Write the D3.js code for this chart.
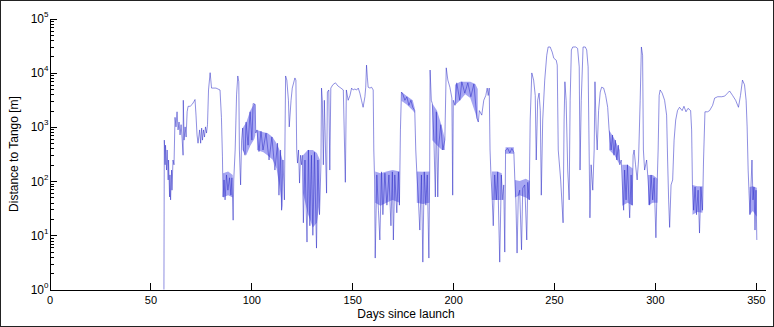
<!DOCTYPE html>
<html>
<head>
	<meta charset="utf-8">
	<title>Distance to Tango</title>
	<style type="text/css">
		body {
			margin: 0;
			background-color: #fff;
		}

		svg {
			display: block;
			font-family: 'Liberation Sans', Arial, sans-serif;
		}

		.axis path, .axis line {
			stroke: #000;
			stroke-width: 1px;
			shape-rendering: crispEdges;
		}

		.axis text {
			font-size: 11px;
			fill: #000;
		}

		.label {
			font-size: 12px;
			fill: #000;
		}
	</style>
	<script type="text/javascript" src="https://cdn.jsdelivr.net/npm/d3@7"></script>
</head>

<body>
	<div id='chart'></div>
	<script type="text/javascript">
		var width = 774, height = 327;

		// tick values
		var xTicks = [0, 50, 100, 150, 200, 250, 300, 350];
		var yDecades = [0, 1, 2, 3, 4, 5];

		// distance track: [day, metres]
		var track = [
			[56.7,1],[56.9,570],[57.3,200],[57.5,460],[58.0,160],[58.3,375],[58.8,105],[59.0,245],[59.5,51],[59.7,130],
			[60.0,45],[60.5,160],[60.7,68],[61.2,245],[61.7,200],[62.2,1500],[62.7,1000],[63.2,1900],[63.7,880],[64.2,1230],
			[64.7,710],[65.2,1100],[65.7,620],[66.2,300],[66.3,3100],[66.7,570],[67.2,1000],[67.7,650],[68.2,1900],[68.7,2400],
			[69.7,2400],[70.7,2600],[71.6,2950],[72.1,3200],[72.6,1650],[73.1,710],[73.6,500],[74.4,880],[74.9,500],[75.4,950],
			[75.8,570],[76.3,880],[76.8,650],[77.3,1000],[77.8,770],[78.3,1100],[78.8,4800],[79.6,10000],[80.3,5200],[82.5,5200],
			[84.5,4800],[85.2,1500],[85.7,280],[86.0,51],[86.5,105],[87.0,45],[87.7,130],[88.4,68],[89.2,115],[89.9,55],
			[90.4,115],[91.0,19],[91.3,105],[92.0,375],[92.7,3900],[93.3,8700],[93.8,6800],[94.1,375],[94.7,85],[95.2,570],
			[95.7,950],[96.1,375],[96.9,300],[97.4,1230],[98.4,460],[99.4,1900],[100.3,570],[100.9,2700],[101.9,2600],[102.2,770],
			[102.8,880],[103.8,350],[104.8,830],[105.8,375],[107.3,770],[108.8,245],[110.2,650],[111.7,160],[113.0,500],[113.7,55],
			[114.5,375],[115.0,29],[115.7,245],[116.4,45],[117.0,8700],[117.6,7300],[118.4,3100],[118.8,1000],[119.7,3100],[120.3,5200],
			[121.6,8000],[122.1,7300],[122.5,375],[122.9,215],[123.4,375],[123.9,92],[124.4,300],[124.9,200],[125.3,300],
			[125.8,17],[126.6,245],[127.6,7.5],[128.3,375],[129.0,15],[129.8,300],[130.5,10],[131.3,340],[132.3,5.8],[133.0,245],
			[133.8,24],[134.5,200],[134.8,5200],[135.2,3100],[135.7,200],[136.2,3100],[137.0,160],[137.3,60],[137.7,4400],[138.4,4800],
			[138.9,160],[139.4,5200],[140.4,6000],[141.7,6500],[142.9,5700],[144.4,5200],[145.6,4800],[146.6,95],[147.1,4800],[148.0,3100],
			[148.9,3800],[149.7,5200],[150.5,4800],[151.3,5000],[152.2,4800],[153.0,5200],[153.8,4200],[154.6,3100],[155.4,2300],[156.3,3600],
			[156.7,5400],[157.1,13800],[157.5,8300],[157.9,5400],[158.8,5200],[159.6,5400],[160.4,4800],[160.7,375],[161.1,105],[161.4,3.8],
			[162.2,130],[163.0,29],[163.7,8.2],[164.5,148],[165.2,24],[166.2,140],[167.2,36],[168.2,130],[169.2,15],[169.9,148],
			[170.4,8.2],[171.1,130],[172.1,26],[172.9,148],[173.4,36],[173.9,880],[174.4,4400],[175.1,4000],[176.1,3100],[177.1,3600],
			[178.1,2500],[179.1,3100],[180.0,2300],[181.0,2000],[181.5,375],[182.0,148],[182.8,45],[183.5,12.5],[184.3,130],[185.0,3.2],
			[185.7,148],[186.5,36],[187.2,130],[188.0,3.8],[188.4,160],[188.6,11200],[189.2,3100],[189.7,2700],
			[190.5,570],[191.2,51],[191.7,1900],[192.4,51],[192.9,460],[193.9,1100],[194.9,375],[195.9,570],[196.6,12300],[197.4,7300],
			[198.4,5400],[199.4,3400],[199.8,55],[200.1,3100],[200.9,2500],[201.8,6500],[203.3,3100],[204.3,6800],[205.8,4200],[207.3,6500],
			[208.8,3600],[210.3,6200],[211.8,1450],[212.5,1230],[213.0,2000],[214.2,1650],[215.2,3100],[216.2,3800],[216.9,5200],[217.4,3800],
			[217.9,5200],[218.3,375],[218.7,148],
			[219.4,45],[219.9,15],[220.6,130],[221.4,45],[222.1,148],[223.1,3.2],[223.9,130],[224.6,45],[225.1,85],[225.6,4.9],
			[226.0,375],[227.1,400],[228.1,330],[229.1,400],[230.1,340],[230.6,105],[231.1,45],[231.7,4.7],[232.3,55],[233.0,68],
			[233.9,5.4],[234.5,74],[235.5,85],[236.5,8.2],[237.0,95],[237.7,45],[238.2,1340],[239.0,9900],[239.9,7300],[240.7,3800],
			[241.2,245],[241.9,3100],[242.6,4200],[243.2,2000],[243.7,55],[244.4,1340],[245.4,7300],[246.4,21000],[247.1,29800],[248.1,29800],
			[249.1,24000],[249.9,18500],[251.1,17000],[251.6,13800],[252.1,375],[253.3,105],[254.5,17],[255.0,1340],[255.4,6800],[256.0,3100],
			[256.8,160],[257.5,45],[258.0,3100],[258.6,26300],[259.3,29800],[260.8,29800],[261.7,28000],[262.5,12800],[262.9,160],[263.5,3100],
			[264.4,29800],[265.5,29800],[266.2,26300],[266.9,12800],[267.4,375],[267.8,21],[268.4,200],[269.2,68],[269.9,375],[270.3,6800],
			[270.9,880],[271.4,375],[272.1,2000],[272.9,4400],[273.6,5400],[274.6,5200],[275.6,3800],[276.6,2300],[277.3,880],
			[278.3,375],[279.0,710],[279.7,300],[280.4,570],[281.1,245],[281.9,460],[282.6,200],[283.3,245],[284.0,68],[284.5,29],
			[285.0,160],[285.7,45],[286.4,200],[287.5,21],[288.2,130],[288.7,36],[289.2,300],[289.7,375],[290.4,200],[291.2,105],
			[291.9,245],[292.7,3100],[293.3,29800],[293.9,21000],[294.3,375],[294.9,160],[295.9,245],[296.6,105],[297.4,36],[298.1,130],
			[298.9,45],[299.6,115],[300.5,9],[301.1,85],[301.6,375],[302.1,3800],[302.6,4800],[303.6,4200],[304.8,3100],[305.8,1650],
			[306.3,245],[306.8,45],[307.3,14],[308.0,85],[308.8,105],[309.5,570],[310.3,1340],[311.2,2000],[312.2,2300],[313.5,2000],
			[314.4,2400],[315.4,1900],[316.4,2200],[317.7,2000],[318.2,880],[318.6,85],
			[319.2,29],[319.9,78],[320.6,24],[321.4,68],[322.1,11],[322.8,78],[323.6,29],[324.1,245],[324.8,1900],[326.1,1900],
			[327.1,2000],[328.6,2500],[329.6,3400],[331.1,3600],[333.1,3600],[334.6,3700],[336.0,4200],[337.0,4600],[338.5,3800],[340.0,3100],
			[341.4,2300],[342.4,3800],[343.4,7300],[344.4,6000],[345.2,3100],[345.7,1000],[346.2,160],[346.6,68],[347.1,24],[347.6,78],
			[348.1,245],[348.6,45],[349.1,78],[349.6,12.5],[350.1,68],[350.5,8.2]
		];

		// stretches where the signal swings fast: low and high edge (null = gap)
		var bandDays = [86.0, 88.5, 90.8, null,
			95.7, 97.5, 99.5, 101.5, 102.0, null,
			102.8, 106, 108, 110.5, 112.5, 114, 115.5, null,
			125.6, 128, 130.5, 132.5, 134, null,
			161.4, 164, 167, 170, 173.5, null,
			174.5, 177, 180, 181, null,
			182, 185, 188.3, null,
			189.7, 192, 194.5, 195.9, null,
			200.9, 203.5, 206, 208.5, 211, 212.2, null,
			219.2, 222, 224.1, null,
			226.0, 230.1, null,
			230.6, 233, 236, 238, null,
			277.3, 280, 282.5, null,
			283.8, 286.5, 289, null,
			296.6, 299, 301.3, null,
			318.6, 321, 323.6, null,
			346.9, 348.5, 350.5];
		var bandLow = [50, 55, 50, null,
			375, 300, 450, 600, 700, null,
			375, 340, 300, 250, 170, 80, 29, null,
			60, 25, 14, 17, 45, null,
			40, 35, 40, 45, 40, null,
			3000, 2600, 2000, 1800, null,
			40, 38, 40, null,
			570, 460, 375, 375, null,
			2500, 3100, 4000, 3400, 1800, 1230, null,
			45, 45, 45, null,
			320, 320, null,
			50, 55, 50, 45, null,
			375, 300, 200, null,
			35, 40, 35, null,
			36, 40, 40, null,
			24, 27, 26, null,
			24, 28, 22];
		var bandHigh = [140, 150, 130, null,
			950, 1200, 2000, 2700, 2600, null,
			880, 800, 770, 650, 500, 375, 245, null,
			300, 375, 375, 330, 245, null,
			150, 140, 150, 160, 150, null,
			4400, 3700, 3100, 2200, null,
			150, 148, 150, null,
			2700, 2000, 1000, 600, null,
			6000, 6800, 6800, 6800, 6200, 5000, null,
			150, 150, 140, null,
			420, 420, null,
			105, 100, 110, 100, null,
			880, 600, 375, null,
			200, 200, 170, null,
			130, 130, 110, null,
			85, 80, 80, null,
			78, 80, 75];

		var svg = d3.select('#chart')
			.append('svg')
			.attr('width', width)
			.attr('height', height);

		// figure frame
		svg.append('rect')
			.attr('x', 0.5)
			.attr('y', 0.5)
			.attr('width', width - 1)
			.attr('height', height - 1)
			.attr('fill', '#fff')
			.attr('stroke', '#222');

		var xScale = d3.scaleLinear()
			.domain([0, 355])
			.range([49.5, 765.9]);

		var yScale = d3.scaleLog()
			.domain([1, 1e5])
			.range([289.5, 18.5]);

		var bandRows = bandDays.map(function(d, i) {
			return d === null ? null : [d, bandLow[i], bandHigh[i]];
		});

		var area = d3.area()
			.defined(function(d) { return d !== null; })
			.x(function(d) { return xScale(d[0]); })
			.y0(function(d) { return yScale(d[1]); })
			.y1(function(d) { return yScale(d[2]); });

		svg.append('path')
			.datum(bandRows)
			.attr('d', area)
			.attr('fill', '#a6a6f2');

		var line = d3.line()
			.x(function(d) { return xScale(d[0]); })
			.y(function(d) { return yScale(d[1]); });

		svg.append('path')
			.datum(track)
			.attr('d', line)
			.attr('fill', 'none')
			.attr('stroke', '#2a2ac6')
			.attr('stroke-opacity', 0.7)
			.attr('stroke-width', 0.75)
			.attr('stroke-linejoin', 'round');

		// x axis, ticks pointing inward
		var xAxis = d3.axisBottom(xScale)
			.tickValues(xTicks)
			.tickSizeInner(-7)
			.tickSizeOuter(0)
			.tickPadding(7)
			.tickFormat(d3.format('d'));

		svg.append('g')
			.attr('class', 'axis')
			.attr('transform', 'translate(0,289.5)')
			.call(xAxis);

		// y axis: major decades and log minor ticks
		var majors = yDecades.map(function(k) { return Math.pow(10, k); });
		var minors = [];
		yDecades.slice(0, -1).forEach(function(k) {
			for (var m = 2; m < 10; m++) minors.push(m * Math.pow(10, k));
		});

		svg.append('g')
			.attr('class', 'axis')
			.attr('transform', 'translate(49.5,0)')
			.call(d3.axisLeft(yScale).tickValues(majors).tickSizeInner(-7).tickSizeOuter(0).tickFormat(''));

		var minorG = svg.append('g')
			.attr('class', 'axis')
			.attr('transform', 'translate(49.5,0)')
			.call(d3.axisLeft(yScale).tickValues(minors).tickSizeInner(-4).tickSizeOuter(0).tickFormat(''));
		minorG.select('.domain').remove();

		// 10^k labels
		var yLabels = svg.selectAll('.ylab')
			.data(yDecades)
			.enter()
			.append('text')
			.attr('class', 'ylab label')
			.attr('x', 48.5)
			.attr('y', function(k) { return yScale(Math.pow(10, k)) + 4.5; })
			.attr('text-anchor', 'end');
		yLabels.append('tspan').text('10');
		yLabels.append('tspan')
			.attr('dy', -6)
			.style('font-size', '8px')
			.text(function(k) { return k; });

		svg.append('text')
			.attr('class', 'label')
			.attr('x', 406)
			.attr('y', 318)
			.attr('text-anchor', 'middle')
			.text('Days since launch');

		svg.append('text')
			.attr('class', 'label')
			.attr('transform', 'translate(17.5,154) rotate(-90)')
			.attr('text-anchor', 'middle')
			.text('Distance to Tango [m]');
	</script>
</body>
</html>
